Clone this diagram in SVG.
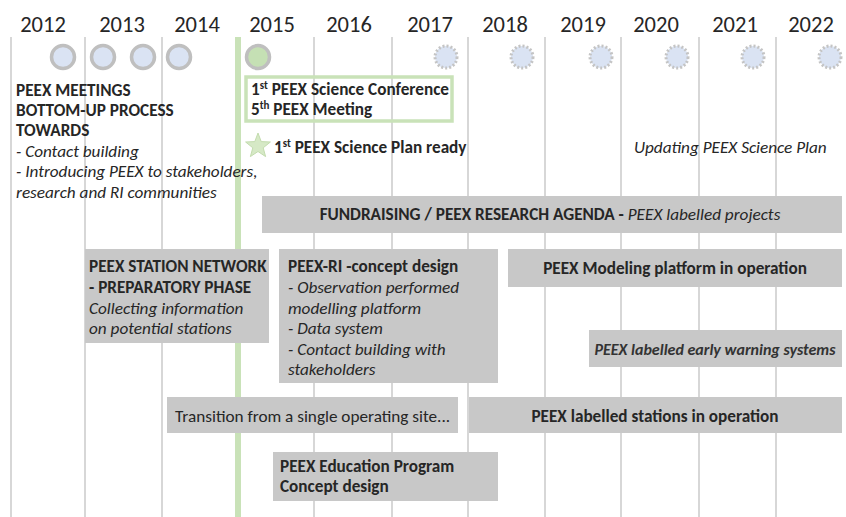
<svg xmlns="http://www.w3.org/2000/svg" width="846" height="517" viewBox="0 0 846 517">
<defs>
<style>
text{font-family:Carlito,Lato,"Liberation Sans",sans-serif;fill:#262626}
.yr{font-size:22.5px;text-anchor:middle}
.t{font-size:17.2px}
.b{font-weight:bold}
.i{font-style:italic}
.bar{fill:#c8c8c8}
.grid{stroke:#cacaca;stroke-width:1.5}
.dot{fill:#dae3f3;stroke:#bfbfbf;stroke-width:3.5}
.pend{fill:#dae3f3;stroke:#c4c4c4;stroke-width:3;stroke-dasharray:2 2}
.sup{font-size:11px}
</style>
</defs>
<rect width="846" height="517" fill="#ffffff"/>
<g id="grid">
<line class="grid" x1="11" y1="37" x2="11" y2="517"/>
<line class="grid" x1="85" y1="37" x2="85" y2="517"/>
<line class="grid" x1="162" y1="37" x2="162" y2="517"/>
<line class="grid" x1="314" y1="37" x2="314" y2="517"/>
<line class="grid" x1="392" y1="37" x2="392" y2="517"/>
<line class="grid" x1="468" y1="37" x2="468" y2="517"/>
<line class="grid" x1="545" y1="37" x2="545" y2="517"/>
<line class="grid" x1="621" y1="37" x2="621" y2="517"/>
<line class="grid" x1="699" y1="37" x2="699" y2="517"/>
<line class="grid" x1="776" y1="37" x2="776" y2="517"/>
<rect x="235" y="37" width="6" height="480" fill="#c9e2b8"/>
</g>
<g id="years">
<text class="yr" x="43" y="32">2012</text>
<text class="yr" x="122" y="32">2013</text>
<text class="yr" x="197" y="32">2014</text>
<text class="yr" x="272" y="32">2015</text>
<text class="yr" x="349" y="32">2016</text>
<text class="yr" x="430" y="32">2017</text>
<text class="yr" x="505" y="32">2018</text>
<text class="yr" x="583" y="32">2019</text>
<text class="yr" x="656" y="32">2020</text>
<text class="yr" x="735" y="32">2021</text>
<text class="yr" x="811" y="32">2022</text>
</g>
<g id="markers">
<circle class="dot" cx="63" cy="57" r="11.5"/>
<circle class="dot" cx="103" cy="57" r="11.5"/>
<circle class="dot" cx="143" cy="57" r="11.5"/>
<circle class="dot" cx="179" cy="57" r="11.5"/>
<circle class="dot" cx="258" cy="57" r="11.5" style="fill:#c5e0b4"/>
<circle class="pend" cx="446" cy="57" r="11"/>
<circle class="pend" cx="522" cy="57" r="11"/>
<circle class="pend" cx="601" cy="57" r="11"/>
<circle class="pend" cx="677" cy="57" r="11"/>
<circle class="pend" cx="753" cy="57" r="11"/>
<circle class="pend" cx="830" cy="57" r="11"/>
</g>
<g id="meetings">
<text class="t b" x="16" y="96">PEEX MEETINGS</text>
<text class="t b" x="16" y="116">BOTTOM-UP PROCESS</text>
<text class="t b" x="16" y="136">TOWARDS</text>
<text class="t i" x="16" y="157">- Contact building</text>
<text class="t i" x="16" y="177">- Introducing PEEX to stakeholders,</text>
<text class="t i" x="16" y="198">research and RI communities</text>
</g>
<g id="conference">
<rect x="246" y="77" width="206" height="44" fill="none" stroke="#c9e2b8" stroke-width="3.5"/>
<text class="t b" x="251" y="95">1<tspan class="sup" dy="-6">st</tspan><tspan dy="6"> PEEX Science Conference</tspan></text>
<text class="t b" x="251" y="115">5<tspan class="sup" dy="-6">th</tspan><tspan dy="6"> PEEX Meeting</tspan></text>
</g>
<g id="science-plan">
<polygon points="258,133 261.2,141.6 270.4,142 263.2,147.8 265.6,156.6 258,151.5 250.4,156.6 252.8,147.8 245.6,142 254.8,141.6" fill="#d6e9c6" stroke="#c3dcae" stroke-width="1"/>
<text class="t b" x="274" y="153">1<tspan class="sup" dy="-6">st</tspan><tspan dy="6"> PEEX Science Plan ready</tspan></text>
</g>
<g id="updating">
<text class="t i" x="634" y="153">Updating PEEX Science Plan</text>
</g>
<g id="fundraising">
<rect class="bar" x="262" y="196" width="580" height="37"/>
<text class="t" x="550" y="220" text-anchor="middle"><tspan class="b">FUNDRAISING / PEEX RESEARCH AGENDA - </tspan><tspan class="i">PEEX labelled projects</tspan></text>
</g>
<g id="station-network">
<rect class="bar" x="85" y="249" width="184" height="94"/>
<text class="t b" x="89" y="272">PEEX STATION NETWORK</text>
<text class="t b" x="89" y="293">- PREPARATORY PHASE</text>
<text class="t i" x="89" y="314">Collecting information</text>
<text class="t i" x="89" y="334">on potential stations</text>
</g>
<g id="peex-ri">
<rect class="bar" x="279" y="249" width="219" height="134"/>
<text class="t b" x="288" y="272">PEEX-RI -concept design</text>
<text class="t i" x="288" y="293">- Observation performed</text>
<text class="t i" x="288" y="314">modelling platform</text>
<text class="t i" x="288" y="334">- Data system</text>
<text class="t i" x="288" y="355">- Contact building with</text>
<text class="t i" x="288" y="375">stakeholders</text>
</g>
<g id="modeling">
<rect class="bar" x="508" y="249" width="334" height="38"/>
<text class="t b" x="675" y="274" text-anchor="middle">PEEX Modeling platform in operation</text>
</g>
<g id="early-warning">
<rect class="bar" x="589" y="330" width="253" height="37"/>
<text class="b i" x="715" y="355" text-anchor="middle" style="fill:#333333;font-size:16px">PEEX labelled early warning systems</text>
</g>
<g id="transition">
<rect class="bar" x="167" y="397" width="291" height="36"/>
<text class="t" x="175" y="422">Transition from a single operating site...</text>
</g>
<g id="stations">
<rect class="bar" x="469" y="397" width="373" height="36"/>
<text class="t b" x="655" y="422" text-anchor="middle">PEEX labelled stations in operation</text>
</g>
<g id="education">
<rect class="bar" x="273" y="452" width="225" height="49"/>
<text class="t b" x="280" y="472">PEEX Education Program</text>
<text class="t b" x="280" y="492">Concept design</text>
</g>
</svg>
